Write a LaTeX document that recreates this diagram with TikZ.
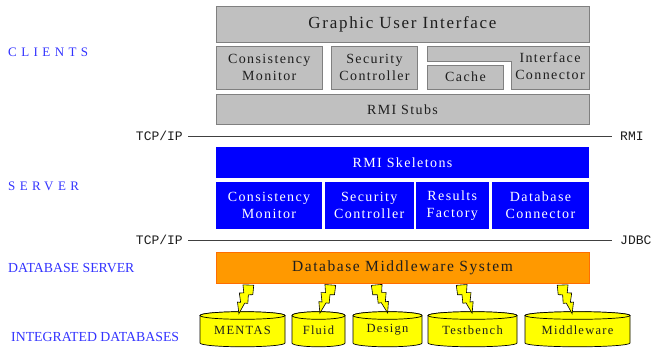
\documentclass[tikz,border=0pt]{standalone}
\usepackage{fontspec}
\setmainfont{Liberation Serif}
\newfontfamily\linkmono{Liberation Mono}
\newfontfamily\boxserif[LetterSpace=10]{Liberation Serif}
\newfontfamily\tierserif[LetterSpace=34]{Liberation Serif}

\definecolor{panelgray}{RGB}{192,192,192}
\definecolor{panelline}{RGB}{128,128,128}
\definecolor{srvblue}{RGB}{0,0,255}
\definecolor{mwfill}{RGB}{255,153,0}
\definecolor{mwline}{RGB}{255,110,0}
\definecolor{tierblue}{RGB}{51,51,255}
\definecolor{dbyellow}{RGB}{255,255,0}
\definecolor{linkgray}{RGB}{64,64,64}
\definecolor{inktext}{RGB}{30,30,30}

% database drum: name, left x, right x, label
\newcommand\dbdrum[4]{%
  \pgfmathsetmacro\drumrx{(#3-#2)/2}%
  \pgfmathsetmacro\drumcx{(#3+#2)/2}%
  \filldraw[drumbody] (#2,315.5) -- (#2,343)
    arc[start angle=180,end angle=360,x radius=\drumrx pt,y radius=3.8pt]
    -- (#3,315.5)
    arc[start angle=0,end angle=180,x radius=\drumrx pt,y radius=3.8pt] -- cycle;
  \draw[drumbody] (\drumcx,315.5) ellipse[x radius=\drumrx pt,y radius=3.8pt];
  \node[drumtext] (#1) at (\drumcx,330) {#4};
}

\begin{document}
\begin{tikzpicture}[x=1pt,y=-1pt,
  clientbox/.style={draw=panelline,fill=panelgray,line width=0.8pt,inner sep=0pt},
  serverbox/.style={fill=srvblue,inner sep=0pt},
  mwbox/.style={draw=mwline,fill=mwfill,line width=0.8pt,inner sep=0pt},
  boxtext/.style={font=\boxserif\fontsize{14}{17}\selectfont,text=inktext,align=center},
  srvtext/.style={font=\boxserif\fontsize{14}{17}\selectfont,text=white,align=center},
  linklabel/.style={font=\linkmono\fontsize{13}{15}\selectfont,text=inktext},
  link/.style={draw=linkgray,line width=0.9pt},
  tierlabel/.style={font=\fontsize{13.8}{15}\selectfont,text=tierblue,anchor=west,inner sep=0pt},
  drumbody/.style={draw=black,fill=dbyellow,line width=0.7pt},
  drumtext/.style={font=\boxserif\fontsize{12.5}{14}\selectfont,text=inktext},
  boltshape/.style={draw=black,fill=dbyellow,line width=0.6pt,line join=miter},
  bolt/.pic={\filldraw[boltshape] (-3,0) -- (7,4) -- (3,11) -- (7,13) -- (2,21)
     -- (5,22) -- (-1,32) -- (-2,20) -- (-5,19) -- (-2,11) -- (-6,9) -- cycle;}
]
\useasboundingbox (0,0) rectangle (655,349);

% tier captions
\node[tierlabel,font=\tierserif\fontsize{13}{15}\selectfont] (tclients) at (8,52) {CLIENTS};
\node[tierlabel,font=\tierserif\fontsize{13}{15}\selectfont] (tserver) at (8,186) {SERVER};
\node[tierlabel] (tdbserver) at (8,268) {DATABASE SERVER};
\node[tierlabel] (tintegrated) at (11,337) {INTEGRATED DATABASES};

% client tier
\node[clientbox,minimum width=373pt,minimum height=36.5pt,
      font=\boxserif\fontsize{17}{19}\selectfont,text=inktext] (gui) at (402.5,24.25) {Graphic User Interface};
\node[clientbox,boxtext,minimum width=106.5pt,minimum height=42.5pt] (cmon) at (269.25,67.75) {Consistency\\Monitor};
\node[clientbox,boxtext,minimum width=86pt,minimum height=42.5pt] (csec) at (374.5,67.75) {Security\\Controller};
\draw[clientbox] (427.5,46.5) -- (589,46.5) -- (589,89) -- (511,89) -- (511,61) -- (427.5,61) -- cycle;
\node[boxtext] (iconn) at (550,66) {Interface\\Connector};
\node[clientbox,boxtext,minimum width=76pt,minimum height=24pt] (cache) at (465.5,77) {Cache};
\node[clientbox,boxtext,minimum width=373pt,minimum height=30.5pt] (stubs) at (402.5,109.25) {RMI Stubs};

% client/server link
\node[linklabel,anchor=east,inner xsep=5pt] (tcp1) at (188,136) {TCP/IP};
\node[linklabel,anchor=west,inner xsep=8pt] (rmi) at (612,136) {RMI};
\draw[link] (tcp1.east) -- (rmi.west);

% server tier
\node[serverbox,srvtext,minimum width=373pt,minimum height=31pt] (skel) at (402.5,162.5) {RMI Skeletons};
\node[serverbox,srvtext,minimum width=106pt,minimum height=47pt] (smon) at (269,205.5) {Consistency\\Monitor};
\node[serverbox,srvtext,minimum width=88.5pt,minimum height=47pt] (ssec) at (369.25,205.5) {Security\\Controller};
\node[serverbox,srvtext,minimum width=72.5pt,minimum height=47pt] (sres) at (452.25,205.5) {Results\\Factory};
\node[serverbox,srvtext,minimum width=97pt,minimum height=47pt] (sdb) at (540.5,205.5) {Database\\Connector};

% server/database link
\node[linklabel,anchor=east,inner xsep=5pt] (tcp2) at (188,240) {TCP/IP};
\node[linklabel,anchor=west,inner xsep=8pt] (jdbc) at (612,240) {JDBC};
\draw[link] (tcp2.east) -- (jdbc.west);

% database server
\node[mwbox,minimum width=373pt,minimum height=31pt,
      font=\boxserif\fontsize{15.5}{17}\selectfont,text=inktext] (mw) at (402.5,267.5) {Database Middleware System};

% integrated databases
\dbdrum{mentas}{200}{285}{MENTAS}
\dbdrum{fluid}{292}{345}{Fluid}
\dbdrum{design}{353}{422}{Design}
\dbdrum{testbench}{428}{517}{Testbench}
\dbdrum{middleware}{525}{630}{Middleware}

% lightning links from the middleware down to each database
\pic[rotate=-24,xscale=-1] at (251,284) {bolt};
\pic[rotate=-26,xscale=-1] at (333,284) {bolt};
\pic[rotate=27] at (374,284) {bolt};
\pic[rotate=26] at (459,284) {bolt};
\pic[rotate=24] at (560,284) {bolt};
\end{tikzpicture}
\end{document}
